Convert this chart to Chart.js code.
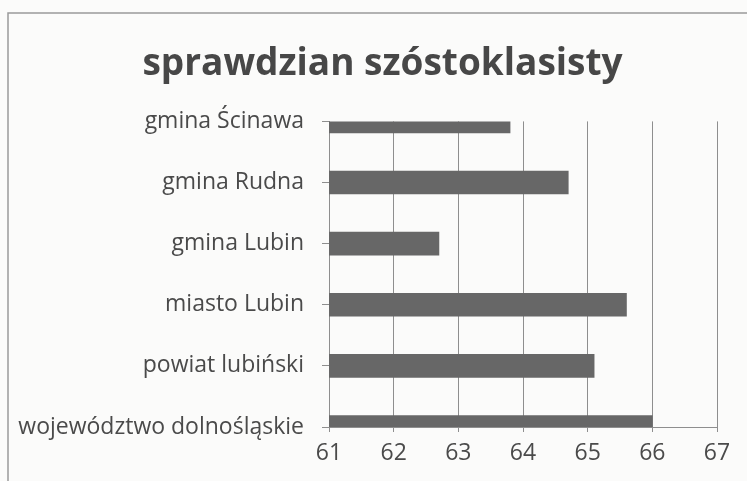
<!DOCTYPE html>
<html lang="pl">
<head>
<meta charset="utf-8">
<title>sprawdzian szóstoklasisty</title>
<script src="https://cdn.jsdelivr.net/npm/chart.js@4/dist/chart.umd.min.js"></script>
<style>
  html, body { margin: 0; padding: 0; background: #fbfbfa; }
  #wrap { width: 747px; height: 481px; position: relative; }
</style>
</head>
<body>
<div id="wrap"><canvas id="chart"></canvas></div>
<script>
// data
const categories = [
  'gmina Ścinawa',
  'gmina Rudna',
  'gmina Lubin',
  'miasto Lubin',
  'powiat lubiński',
  'województwo dolnośląskie'
];
const scores = [63.8, 64.7, 62.7, 65.6, 65.1, 66.0];
const axisMin = 61;
const axisMax = 67;

const gridColor = '#8e8e8e';
const textColor = '#4a4a4a';

// thin frame around the chart, as on the scanned page
const framePlugin = {
  id: 'frame',
  afterLayout(chart) {
    // the scan has the title centred a bit right of the canvas middle
    if (chart.titleBlock) chart.titleBlock.left = 48;
  },
  beforeDraw(chart) {
    const ctx = chart.ctx;
    ctx.save();
    ctx.strokeStyle = '#9a9a9a';
    ctx.lineWidth = 1.5;
    ctx.strokeRect(8, 13, 800, 600);
    ctx.restore();
  }
};

new Chart(document.getElementById('chart'), {
  type: 'bar',
  data: {
    labels: categories,
    datasets: [{
      data: scores,
      backgroundColor: '#676767',
      borderWidth: 0,
      barThickness: 23,
      clip: 0
    }]
  },
  options: {
    indexAxis: 'y',
    responsive: true,
    maintainAspectRatio: false,
    animation: false,
    layout: { padding: { left: 0, right: 30, top: 0, bottom: 0 } },
    scales: {
      x: {
        min: axisMin,
        max: axisMax,
        ticks: {
          stepSize: 1,
          color: textColor,
          padding: 8,
          font: { family: 'Open Sans', size: 23 }
        },
        grid: { color: gridColor, lineWidth: 1, tickLength: 5 },
        border: { color: gridColor, width: 1 },
        afterFit(scale) { scale.height = 54; }
      },
      y: {
        offset: false,
        ticks: {
          color: textColor,
          padding: 18,
          font: { family: 'Open Sans', size: 23 }
        },
        grid: { offset: false, drawOnChartArea: false, color: gridColor, tickLength: 7 },
        border: { color: gridColor, width: 1 },
        afterFit(scale) { scale.width = 329; }
      }
    },
    plugins: {
      legend: { display: false },
      tooltip: { enabled: false },
      title: {
        display: true,
        text: 'sprawdzian szóstoklasisty',
        color: '#474747',
        font: { family: 'Open Sans', size: 37, weight: 'bold', lineHeight: 1.2 },
        padding: { top: 42, bottom: 35 }
      }
    }
  },
  plugins: [framePlugin]
});
</script>
</body>
</html>
